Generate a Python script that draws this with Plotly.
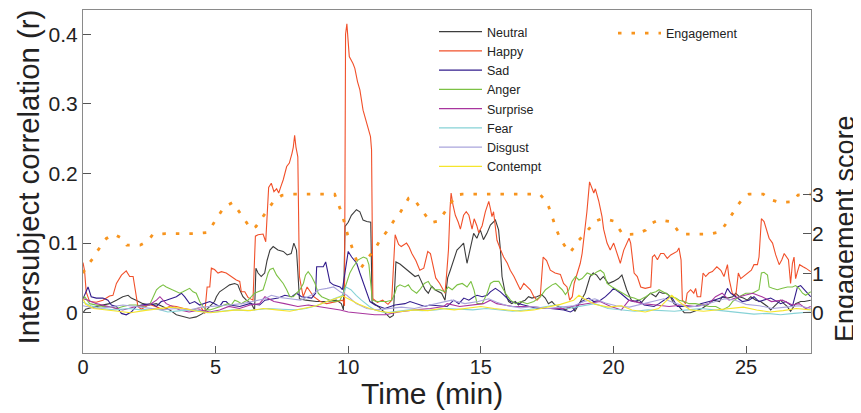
import plotly.graph_objects as go

# ---------------- data ----------------
happy_t = [0.00, 0.06, 0.12, 0.25, 0.50, 0.75, 1.00, 1.13, 1.26, 1.45, 1.63, 1.76, 1.89, 1.99, 2.07, 2.20,
           2.50, 2.80, 3.02, 3.30, 3.52, 3.80, 4.15, 4.45, 4.59, 4.68, 4.78, 4.84, 4.96, 5.09, 5.22, 5.40,
           5.59, 5.78, 5.91, 5.97, 6.10, 6.22, 6.41, 6.50, 6.60, 6.79, 6.89, 6.94, 7.00, 7.10, 7.20, 7.30,
           7.38, 7.45, 7.55, 7.68, 7.78, 7.88, 7.93, 7.98, 8.03, 8.10, 8.16, 8.30, 8.45, 8.70, 8.95, 9.19,
           9.58, 9.80, 9.86, 9.90, 9.95, 10.04, 10.18, 10.25, 10.35, 10.44, 10.56, 10.66, 10.75, 10.84, 10.88, 10.93,
           11.10, 11.30, 11.50, 11.64, 11.77, 11.90, 12.00, 12.20, 12.30, 12.40, 12.55, 12.70, 12.85, 12.95, 13.00, 13.10,
           13.20, 13.30, 13.45, 13.60, 13.65, 13.72, 13.78, 13.84, 13.88, 13.95, 14.04, 14.15, 14.23, 14.35, 14.45, 14.55,
           14.67, 14.75, 14.85, 14.92, 15.05, 15.17, 15.30, 15.36, 15.42, 15.48, 15.55, 15.61, 15.75, 15.86, 16.00, 16.11,
           16.25, 16.37, 16.49, 16.62, 16.75, 16.87, 17.00, 17.12, 17.24, 17.35, 17.48, 17.62, 17.80, 18.00, 18.12, 18.25,
           18.35, 18.45, 18.52, 18.63, 18.75, 18.82, 18.88, 19.00, 19.10, 19.19, 19.26, 19.32, 19.45, 19.57, 19.63, 19.76,
           19.88, 20.01, 20.13, 20.26, 20.39, 20.50, 20.59, 20.65, 20.72, 20.78, 20.90, 20.96, 21.03, 21.20, 21.41, 21.47,
           21.55, 21.66, 21.78, 21.90, 22.03, 22.16, 22.28, 22.40, 22.47, 22.55, 22.60, 22.72, 22.78, 22.91, 23.03, 23.10,
           23.16, 23.29, 23.38, 23.48, 23.60, 23.73, 23.90, 24.05, 24.17, 24.30, 24.36, 24.48, 24.61, 24.71, 24.80, 24.99,
           25.20, 25.30, 25.43, 25.49, 25.58, 25.68, 25.77, 25.87, 26.00, 26.12, 26.25, 26.35, 26.44, 26.52, 26.60, 26.68,
           26.75, 26.81, 26.87, 26.94, 27.02, 27.15, 27.25, 27.44]
happy_r = [0.072, 0.060, 0.030, 0.016, 0.015, 0.018, 0.024, 0.025, 0.042, 0.054, 0.060, 0.052, 0.052, 0.025, 0.009, 0.005,
           0.012, 0.008, 0.004, 0.010, 0.009, 0.006, 0.004, 0.008, -0.001, 0.037, 0.037, 0.064, 0.062, 0.057, 0.059, 0.057,
           0.052, 0.047, 0.045, 0.030, 0.030, 0.022, 0.018, 0.110, 0.112, 0.113, 0.102, 0.138, 0.180, 0.186, 0.174, 0.178,
           0.172, 0.180, 0.191, 0.210, 0.215, 0.229, 0.238, 0.255, 0.238, 0.224, 0.052, 0.023, 0.037, 0.023, 0.016, 0.013,
           0.016, 0.018, 0.010, 0.400, 0.415, 0.368, 0.358, 0.351, 0.332, 0.320, 0.291, 0.277, 0.268, 0.253, 0.234, 0.020,
           0.015, 0.018, 0.012, 0.018, 0.112, 0.098, 0.095, 0.100, 0.094, 0.085, 0.075, 0.061, 0.064, 0.080, 0.088, 0.085,
           0.067, 0.050, 0.042, 0.033, 0.028, 0.060, 0.090, 0.150, 0.172, 0.155, 0.140, 0.130, 0.120, 0.140, 0.145, 0.140,
           0.120, 0.135, 0.125, 0.115, 0.125, 0.145, 0.160, 0.150, 0.138, 0.145, 0.120, 0.104, 0.090, 0.080, 0.071, 0.061,
           0.052, 0.042, 0.033, 0.042, 0.037, 0.033, 0.023, 0.018, 0.023, 0.080, 0.075, 0.061, 0.057, 0.055, 0.042, 0.037,
           0.018, 0.023, 0.042, 0.057, 0.071, 0.085, 0.104, 0.145, 0.188, 0.180, 0.172, 0.178, 0.160, 0.138, 0.120, 0.100,
           0.090, 0.100, 0.085, 0.071, 0.090, 0.100, 0.107, 0.100, 0.076, 0.057, 0.052, 0.045, 0.037, 0.035, 0.037, 0.080,
           0.083, 0.076, 0.085, 0.085, 0.078, 0.083, 0.085, 0.088, 0.093, 0.076, 0.018, 0.013, 0.028, 0.033, 0.028, 0.035,
           0.023, 0.023, 0.057, 0.052, 0.057, 0.059, 0.066, 0.061, 0.052, 0.069, 0.049, 0.028, 0.023, 0.057, 0.049, 0.055,
           0.061, 0.069, 0.069, 0.080, 0.135, 0.131, 0.119, 0.107, 0.100, 0.083, 0.069, 0.076, 0.085, 0.080, 0.076, 0.042,
           0.071, 0.080, 0.049, 0.059, 0.069, 0.066, 0.064, 0.059]

neutral_t = [0.00, 0.10, 0.38, 0.75, 1.00, 1.26, 1.50, 1.70, 1.82, 2.00, 2.26, 2.50, 2.76, 3.00, 3.27, 3.52,
             3.77, 4.02, 4.27, 4.52, 4.78, 4.96, 5.03, 5.15, 5.34, 5.53, 5.72, 5.84, 5.91, 6.03, 6.16, 6.35,
             6.47, 6.52, 6.60, 6.72, 6.85, 6.94, 7.05, 7.17, 7.35, 7.55, 7.70, 7.85, 7.95, 8.05, 8.10, 8.16,
             8.40, 8.80, 9.20, 9.55, 9.74, 9.82, 9.88, 10.00, 10.12, 10.31, 10.44, 10.56, 10.70, 10.85, 10.90, 11.13,
             11.38, 11.57, 11.70, 11.80, 11.95, 12.14, 12.27, 12.39, 12.52, 12.65, 12.77, 12.90, 13.02, 13.15, 13.27, 13.52,
             13.65, 13.75, 13.85, 13.98, 14.10, 14.23, 14.35, 14.48, 14.60, 14.73, 14.85, 14.98, 15.10, 15.23, 15.36, 15.48,
             15.55, 15.67, 15.74, 15.80, 15.92, 16.05, 16.17, 16.30, 16.42, 16.55, 16.67, 16.80, 16.93, 17.11, 17.30, 17.43,
             17.55, 17.68, 17.80, 17.93, 18.18, 18.43, 18.55, 18.74, 18.93, 19.12, 19.24, 19.37, 19.50, 19.62, 19.81, 20.00,
             20.19, 20.32, 20.38, 20.50, 20.68, 20.85, 21.04, 21.20, 21.40, 21.60, 21.73, 21.85, 22.00, 22.15, 22.28, 22.47,
             22.67, 22.90, 23.15, 23.34, 23.53, 23.78, 24.00, 24.10, 24.30, 24.50, 24.61, 24.75, 24.90, 25.05, 25.18, 25.37,
             25.55, 25.68, 25.81, 25.93, 26.05, 26.18, 26.30, 26.43, 26.55, 26.68, 26.87, 27.06, 27.20, 27.44]
neutral_r = [0.000, 0.005, 0.008, 0.011, 0.013, 0.018, 0.023, 0.025, 0.021, 0.018, 0.013, 0.011, 0.013, 0.009, 0.004, -0.003,
             -0.006, -0.008, -0.006, -0.001, 0.009, 0.016, 0.023, 0.030, 0.035, 0.040, 0.042, 0.040, 0.033, 0.023, 0.018, 0.013,
             0.004, 0.064, 0.057, 0.052, 0.057, 0.075, 0.090, 0.095, 0.090, 0.088, 0.083, 0.085, 0.100, 0.090, 0.060, 0.020,
             0.018, 0.016, 0.016, 0.018, 0.013, 0.004, 0.124, 0.130, 0.140, 0.148, 0.145, 0.133, 0.131, 0.130, 0.015, 0.009,
             0.000, -0.007, -0.004, 0.073, 0.070, 0.064, 0.060, 0.057, 0.052, 0.054, 0.045, 0.033, 0.028, 0.038, 0.033, 0.028,
             0.018, 0.050, 0.061, 0.075, 0.090, 0.095, 0.100, 0.071, 0.090, 0.114, 0.107, 0.119, 0.105, 0.114, 0.126, 0.131,
             0.133, 0.119, 0.090, 0.052, 0.028, 0.016, 0.013, 0.016, 0.011, 0.016, 0.018, 0.023, 0.021, 0.023, 0.026, 0.021,
             0.013, 0.016, 0.011, 0.009, 0.004, 0.009, 0.002, 0.015, 0.028, 0.052, 0.057, 0.054, 0.047, 0.052, 0.042, 0.045,
             0.049, 0.054, 0.047, 0.033, 0.018, 0.016, 0.014, 0.021, 0.028, 0.023, 0.030, 0.028, 0.028, 0.023, 0.013, 0.009,
             0.000, 0.000, 0.004, 0.006, 0.011, 0.018, 0.016, 0.023, 0.021, 0.023, 0.028, 0.023, 0.021, 0.018, 0.023, 0.018,
             0.016, 0.013, 0.009, 0.004, 0.009, 0.013, 0.018, 0.013, 0.009, 0.002, 0.013, 0.016, 0.016, 0.018]

sad_t = [0.00, 0.19, 0.31, 0.50, 0.75, 0.94, 1.07, 1.26, 1.45, 1.63, 1.82, 2.01, 2.20, 2.58, 2.77, 2.95,
         3.14, 3.33, 3.52, 3.71, 3.83, 4.02, 4.21, 4.40, 4.59, 4.78, 4.96, 5.15, 5.28, 5.40, 5.53, 5.91,
         6.28, 6.66, 6.86, 7.36, 7.61, 7.87, 8.05, 8.24, 8.62, 8.77, 8.81, 9.06, 9.15, 9.20, 9.31, 9.44,
         9.69, 9.78, 9.88, 10.00, 10.13, 10.32, 10.44, 10.57, 10.69, 10.82, 11.01, 11.20, 11.38, 11.76, 12.14, 12.33,
         12.70, 12.89, 13.08, 13.52, 13.73, 13.98, 14.17, 14.36, 14.55, 14.74, 14.86, 15.05, 15.24, 15.36, 15.55, 15.74,
         15.93, 16.12, 16.62, 17.12, 17.63, 18.13, 18.38, 18.51, 18.70, 18.88, 19.07, 19.26, 19.51, 19.70, 19.89, 20.01,
         20.27, 20.58, 20.78, 20.97, 21.16, 21.53, 21.72, 21.91, 22.10, 22.22, 22.41, 23.10, 23.29, 23.79, 24.17, 24.30,
         24.42, 24.61, 24.86, 25.11, 25.30, 25.49, 25.93, 26.31, 26.50, 26.75, 26.94, 27.06, 27.19, 27.44]
sad_r = [0.020, 0.037, 0.023, 0.021, 0.021, 0.018, 0.011, 0.009, -0.001, -0.003, 0.001, 0.009, 0.011, 0.013, 0.009, 0.016,
         0.018, 0.021, 0.023, 0.028, 0.023, 0.013, 0.016, 0.011, 0.013, 0.016, 0.013, 0.009, 0.016, 0.016, 0.011, 0.009,
         0.013, 0.011, 0.018, 0.021, 0.025, 0.023, 0.028, 0.023, 0.021, 0.028, 0.066, 0.066, 0.073, 0.062, 0.044, 0.040,
         0.037, 0.033, 0.060, 0.088, 0.080, 0.071, 0.057, 0.042, 0.028, 0.016, 0.011, 0.009, 0.006, 0.011, 0.013, 0.016,
         0.011, 0.009, 0.011, 0.009, 0.009, 0.018, 0.013, 0.021, 0.018, 0.023, 0.025, 0.023, 0.025, 0.030, 0.035, 0.030,
         0.023, 0.016, 0.011, 0.006, 0.006, 0.004, 0.001, 0.004, 0.013, 0.018, 0.021, 0.016, 0.018, 0.023, 0.030, 0.035,
         0.028, 0.018, 0.016, 0.018, 0.011, 0.009, 0.013, 0.018, 0.023, 0.021, 0.009, 0.009, 0.013, 0.018, 0.023, 0.035,
         0.028, 0.023, 0.016, 0.018, 0.023, 0.016, 0.021, 0.013, 0.016, 0.009, 0.037, 0.039, 0.033, 0.023]

anger_t = [0.00, 0.06, 0.25, 0.50, 0.75, 1.00, 1.26, 1.51, 1.76, 2.01, 2.26, 2.51, 2.64, 2.77, 2.89, 3.02,
           3.14, 3.27, 3.39, 3.52, 3.65, 3.77, 3.90, 4.02, 4.15, 4.27, 4.40, 4.52, 4.65, 4.78, 4.96, 5.15,
           5.34, 5.47, 5.59, 5.72, 5.84, 5.97, 6.10, 6.22, 6.35, 6.47, 6.60, 6.79, 6.89, 6.98, 7.05, 7.17,
           7.30, 7.43, 7.55, 7.68, 7.80, 7.93, 8.05, 8.18, 8.31, 8.39, 8.49, 8.62, 8.75, 8.87, 9.00, 9.12,
           9.31, 9.50, 9.69, 9.81, 9.94, 10.06, 10.19, 10.38, 10.57, 10.70, 10.78, 10.91, 11.07, 11.26, 11.45, 11.64,
           11.76, 11.83, 11.95, 12.14, 12.27, 12.39, 12.58, 12.70, 12.87, 13.02, 13.14, 13.27, 13.46, 13.65, 13.77, 13.92,
           14.11, 14.30, 14.48, 14.63, 14.74, 14.86, 15.05, 15.24, 15.36, 15.49, 15.68, 15.80, 15.93, 16.12, 16.31, 16.50,
           16.75, 17.00, 17.25, 17.44, 17.56, 17.69, 17.82, 17.94, 18.07, 18.19, 18.32, 18.44, 18.57, 18.70, 18.82, 19.01,
           19.20, 19.39, 19.51, 19.64, 19.76, 19.95, 20.14, 20.33, 20.58, 20.78, 20.97, 21.22, 21.41, 21.60, 21.72, 21.97,
           22.16, 22.35, 22.48, 22.66, 22.85, 23.10, 23.36, 23.61, 23.86, 24.11, 24.36, 24.49, 24.74, 24.99, 25.24, 25.49,
           25.58, 25.68, 25.81, 25.87, 26.00, 26.18, 26.37, 26.56, 26.75, 26.87, 27.00, 27.13, 27.25, 27.38, 27.44]
anger_r = [0.018, 0.023, 0.013, 0.011, 0.009, 0.009, 0.006, 0.009, 0.011, 0.011, 0.009, 0.011, 0.023, 0.033, 0.037, 0.040,
           0.037, 0.035, 0.033, 0.030, 0.028, 0.030, 0.033, 0.035, 0.030, 0.028, 0.016, 0.009, 0.004, 0.004, 0.006, 0.009,
           0.011, 0.013, 0.011, 0.018, 0.016, 0.013, 0.016, 0.018, 0.023, 0.028, 0.030, 0.033, 0.045, 0.057, 0.062, 0.064,
           0.054, 0.047, 0.042, 0.033, 0.023, 0.023, 0.028, 0.033, 0.042, 0.054, 0.059, 0.052, 0.042, 0.028, 0.023, 0.021,
           0.018, 0.016, 0.018, 0.028, 0.042, 0.057, 0.066, 0.076, 0.080, 0.078, 0.069, 0.018, 0.016, 0.016, 0.016, 0.018,
           0.028, 0.037, 0.040, 0.037, 0.040, 0.033, 0.028, 0.033, 0.042, 0.045, 0.037, 0.033, 0.033, 0.030, 0.037, 0.033,
           0.040, 0.042, 0.037, 0.045, 0.033, 0.013, 0.013, 0.028, 0.042, 0.045, 0.045, 0.037, 0.028, 0.018, 0.013, 0.016,
           0.013, 0.016, 0.023, 0.033, 0.037, 0.040, 0.042, 0.037, 0.033, 0.026, 0.033, 0.045, 0.052, 0.047, 0.049, 0.057,
           0.054, 0.059, 0.061, 0.057, 0.042, 0.037, 0.033, 0.028, 0.023, 0.021, 0.018, 0.023, 0.028, 0.030, 0.033, 0.028,
           0.023, 0.021, 0.018, 0.016, 0.013, 0.013, 0.011, 0.009, 0.009, 0.004, 0.009, 0.016, 0.023, 0.028, 0.028, 0.033,
           0.057, 0.058, 0.054, 0.037, 0.035, 0.033, 0.035, 0.037, 0.037, 0.039, 0.035, 0.028, 0.025, 0.028, 0.030]

surprise_t = [0.0, 0.2, 0.5, 1.0, 1.5, 2.0, 2.5, 2.77, 2.9, 3.14, 3.4, 3.65, 4.0, 4.4, 4.78, 5.15,
              5.5, 5.9, 6.3, 6.66, 6.86, 7.2, 7.6, 8.1, 8.5, 8.9, 9.3, 9.7, 10.0, 10.5, 11.0, 11.4,
              11.9, 12.5, 13.1, 13.6, 13.73, 14.2, 14.7, 15.1, 15.36, 15.6, 16.2, 16.9, 17.5, 18.1, 18.7, 19.1,
              19.5, 19.9, 20.3, 20.59, 21.1, 21.6, 22.1, 22.6, 23.1, 23.6, 23.85, 24.1, 24.36, 24.74, 25.0, 25.25,
              25.6, 25.96, 26.37, 26.75, 27.0, 27.25, 27.44]
surprise_r = [0.020, 0.018, 0.013, 0.009, 0.004, 0.009, 0.011, 0.018, 0.023, 0.013, 0.009, 0.004, 0.001, 0.004, 0.001, 0.004,
              0.009, 0.006, 0.011, 0.013, 0.023, 0.016, 0.013, 0.009, 0.011, 0.009, 0.006, 0.004, 0.001, -0.001, -0.003, -0.003,
              0.001, 0.004, 0.006, 0.009, 0.013, 0.009, 0.011, 0.013, 0.018, 0.013, 0.009, 0.009, 0.006, 0.006, 0.011, 0.013,
              0.016, 0.009, 0.004, 0.018, 0.013, 0.011, 0.009, 0.011, 0.009, 0.013, 0.023, 0.028, 0.018, 0.023, 0.025, 0.028,
              0.023, 0.016, 0.018, 0.011, 0.013, 0.006, 0.009]

fear_t = [0.0, 0.3, 0.7, 1.2, 1.7, 2.2, 2.7, 3.2, 3.7, 4.2, 4.7, 5.2, 5.7, 6.2, 6.6, 7.0,
          7.5, 8.0, 8.4, 8.8, 9.2, 9.5, 9.8, 9.92, 10.1, 10.3, 10.5, 10.8, 11.0, 11.4, 11.8, 12.3,
          12.8, 13.3, 13.7, 14.2, 14.7, 15.2, 15.7, 16.2, 16.7, 17.3, 17.8, 18.3, 18.8, 19.3, 19.8, 20.3,
          20.8, 21.3, 21.8, 22.3, 22.8, 23.3, 23.8, 24.3, 24.8, 25.3, 25.8, 26.3, 26.8, 27.44]
fear_r = [0.015, 0.010, 0.006, 0.004, 0.006, 0.004, 0.006, 0.001, 0.003, 0.004, 0.000, 0.002, 0.004, 0.003, 0.004, 0.006,
          0.005, 0.004, 0.006, 0.010, 0.016, 0.020, 0.025, 0.037, 0.033, 0.025, 0.018, 0.009, 0.004, 0.000, 0.002, 0.004,
          0.003, 0.004, 0.006, 0.005, 0.004, 0.006, 0.004, 0.002, 0.004, 0.008, 0.011, 0.006, 0.009, 0.013, 0.006, 0.004,
          0.002, 0.004, 0.003, 0.002, 0.004, 0.006, 0.004, 0.002, 0.000, -0.002, -0.001, -0.003, -0.001, 0.001]

disgust_t = [0.0, 0.5, 1.0, 1.5, 2.0, 2.5, 3.0, 3.5, 4.0, 4.5, 5.0, 5.5, 6.0, 6.4, 6.86, 7.1,
             7.4, 7.8, 8.2, 8.6, 8.9, 9.2, 9.45, 9.7, 9.95, 10.3, 10.7, 11.1, 11.5, 12.0, 12.5, 13.0,
             13.5, 13.9, 14.4, 14.9, 15.3, 15.6, 16.0, 16.5, 17.0, 17.5, 18.0, 18.5, 18.9, 19.3, 19.7, 20.1,
             20.6, 21.0, 21.5, 21.9, 22.3, 22.8, 23.3, 23.8, 24.2, 24.6, 25.0, 25.5, 26.0, 26.5, 27.0, 27.44]
disgust_r = [0.010, 0.006, 0.008, 0.011, 0.009, 0.006, 0.004, 0.006, 0.004, 0.008, 0.009, 0.011, 0.013, 0.016, 0.020, 0.025,
             0.022, 0.020, 0.018, 0.025, 0.033, 0.035, 0.037, 0.030, 0.025, 0.013, 0.006, 0.004, 0.006, 0.008, 0.006, 0.010,
             0.014, 0.018, 0.013, 0.016, 0.020, 0.015, 0.010, 0.007, 0.009, 0.006, 0.008, 0.010, 0.016, 0.020, 0.014, 0.010,
             0.008, 0.012, 0.016, 0.020, 0.014, 0.008, 0.010, 0.016, 0.020, 0.018, 0.012, 0.010, 0.006, 0.008, 0.010, 0.006]

contempt_t = [0.0, 0.1, 0.4, 0.8, 1.3, 1.8, 2.3, 2.8, 3.3, 3.8, 4.3, 4.8, 5.3, 5.8, 6.3, 6.8,
              7.3, 7.8, 8.3, 8.8, 9.2, 9.5, 9.8, 10.0, 10.4, 10.8, 11.2, 11.6, 12.0, 12.5, 13.0, 13.5,
              14.0, 14.5, 15.0, 15.5, 16.0, 16.5, 17.0, 17.5, 18.0, 18.5, 18.7, 18.9, 19.3, 19.8, 20.3, 20.7,
              21.2, 21.7, 22.0, 22.2, 22.5, 22.9, 23.4, 23.9, 24.4, 24.9, 25.4, 25.9, 26.4, 26.9, 27.44]
contempt_r = [0.020, 0.012, 0.006, 0.004, 0.002, 0.000, 0.003, 0.006, 0.008, 0.006, 0.002, 0.000, 0.002, 0.004, 0.003, 0.006,
              0.004, 0.002, 0.006, 0.010, 0.016, 0.020, 0.024, 0.020, 0.012, 0.006, 0.002, 0.000, 0.002, 0.004, 0.003, 0.006,
              0.004, 0.006, 0.009, 0.006, 0.004, 0.002, 0.004, 0.008, 0.012, 0.018, 0.025, 0.020, 0.012, 0.008, 0.010, 0.004,
              0.001, 0.006, 0.018, 0.025, 0.015, 0.004, 0.002, 0.004, 0.006, 0.008, 0.004, 0.001, 0.003, 0.006, 0.004]

engage_t = [0.00, 0.06, 0.23, 0.40, 0.55, 0.70, 0.88, 1.17, 1.47, 1.65, 2.15, 2.46, 2.63, 3.12, 4.19, 4.68,
            4.85, 5.00, 5.17, 5.33, 5.64, 5.83, 6.00, 6.16, 6.32, 6.52, 6.70, 6.86, 7.21, 7.50, 7.89, 9.49,
            9.58, 9.69, 9.78, 9.84, 9.92, 9.98, 10.07, 10.15, 10.25, 10.33, 10.47, 10.63, 10.78, 10.97, 11.24, 11.45,
            11.63, 11.80, 11.98, 12.14, 12.28, 12.44, 12.62, 12.77, 12.95, 13.12, 13.41, 13.56, 13.75, 14.08, 14.30, 17.22,
            17.43, 17.56, 17.65, 17.72, 17.81, 17.91, 18.02, 18.19, 18.36, 18.53, 18.70, 18.88, 19.10, 19.26, 19.61, 20.01,
            20.19, 20.36, 20.86, 21.22, 21.40, 21.72, 22.19, 22.35, 22.52, 23.61, 24.03, 24.21, 24.37, 24.53, 24.70, 24.86,
            25.11, 25.65, 25.90, 26.28, 26.78, 26.96, 27.44]
engage_s = [1.00, 1.08, 1.25, 1.40, 1.57, 1.72, 1.88, 1.99, 1.88, 1.71, 1.71, 1.82, 1.98, 2.00, 2.00, 2.03,
            2.18, 2.35, 2.52, 2.68, 2.79, 2.62, 2.45, 2.29, 2.12, 2.18, 2.35, 2.52, 2.84, 2.97, 3.00, 3.00,
            2.81, 2.64, 2.47, 2.30, 2.14, 1.97, 1.80, 1.63, 1.46, 1.29, 1.12, 1.29, 1.42, 1.57, 1.88, 2.05,
            2.25, 2.41, 2.56, 2.73, 2.90, 2.91, 2.75, 2.60, 2.43, 2.28, 2.32, 2.47, 2.64, 2.98, 3.00, 3.00,
            2.85, 2.68, 2.52, 2.35, 2.18, 2.01, 1.84, 1.67, 1.52, 1.67, 1.84, 1.97, 2.14, 2.30, 2.39, 2.32,
            2.15, 1.98, 1.99, 2.09, 2.25, 2.35, 2.30, 2.15, 1.99, 1.99, 2.05, 2.22, 2.37, 2.55, 2.73, 2.87,
            3.00, 3.00, 2.87, 2.79, 2.81, 2.98, 3.00]

x_ticks = [0, 5, 10, 15, 20, 25]
y_ticks = [0, 0.1, 0.2, 0.3, 0.4]
y_tick_text = ["0", "0.1", "0.2", "0.3", "0.4"]
y2_ticks = [0, 1, 2, 3]

series = [
    ("Neutral", neutral_t, neutral_r, "#3d3d3d"),
    ("Happy", happy_t, happy_r, "#f1502a"),
    ("Sad", sad_t, sad_r, "#321c8c"),
    ("Anger", anger_t, anger_r, "#7cc144"),
    ("Surprise", surprise_t, surprise_r, "#a8359e"),
    ("Fear", fear_t, fear_r, "#86d2d6"),
    ("Disgust", disgust_t, disgust_r, "#aaa5dc"),
    ("Contempt", contempt_t, contempt_r, "#f5e52c"),
]

FONT = "Liberation Sans, Arial, Helvetica, sans-serif"

# the page adds an 8px body margin; the figure is sized so the plot area lands
# at x 83..811, y 10..353 of the 861x413 window
PAD = 8
PL, PR, PT, PB = 83, 811, 10, 353
PW, PH = PR - PL, PB - PT


def px(x):
    return (x - PL) / PW


def py(y):
    return (PB - y) / PH


fig = go.Figure()
for name, t, r, col in series:
    fig.add_trace(go.Scatter(x=t, y=r, name=name, mode="lines",
                             line=dict(color=col, width=1.1), legend="legend"))

fig.add_trace(go.Scatter(x=engage_t, y=engage_s, name="Engagement", mode="lines", yaxis="y2",
                         line=dict(color="#f7941e", width=2.8, dash="3.5px,10px"),
                         legend="legend2"))

axis_common = dict(showgrid=False, zeroline=False, showline=True, linecolor="#8a8a8a",
                   linewidth=1.2, ticks="inside", tickcolor="#555555", tickwidth=1.2)

fig.update_layout(
    width=861 - PAD, height=413 - PAD,
    margin=dict(l=PL - PAD, r=861 - PR, t=PT - PAD, b=413 - PB, autoexpand=False),
    paper_bgcolor="white", plot_bgcolor="white",
    font=dict(family=FONT, color="#222222"),
    showlegend=True,
    xaxis=dict(range=[0, 27.45], tickvals=x_ticks, ticklen=7, mirror=True,
               ticklabelstandoff=-4,
               tickfont=dict(size=20, family=FONT, color="#222222"), **axis_common),
    yaxis=dict(range=[-0.0579, 0.4349], tickvals=y_ticks, ticktext=y_tick_text, ticklen=8,
               mirror=True, tickfont=dict(size=21, family=FONT, color="#222222"), **axis_common),
    yaxis2=dict(overlaying="y", side="right", range=[-1.02, 7.663], tickvals=y2_ticks,
                showgrid=False, zeroline=False, showline=False, ticks="inside", ticklen=8,
                tickcolor="#555555", tickwidth=1.2,
                tickfont=dict(size=21, family=FONT, color="#222222")),
    legend=dict(x=px(434), y=py(17), xanchor="left", yanchor="top", bgcolor="rgba(0,0,0,0)",
                font=dict(size=12.5, family=FONT, color="#222222"), borderwidth=0,
                tracegroupgap=0, itemwidth=43),
    legend2=dict(x=px(613), y=py(18.5), xanchor="left", yanchor="top", bgcolor="rgba(0,0,0,0)",
                 font=dict(size=12.5, family=FONT, color="#222222"), borderwidth=0,
                 itemwidth=43),
    annotations=[
        dict(text="Time (min)", xref="paper", yref="paper", x=px(432), y=py(393),
             xanchor="center", yanchor="middle", showarrow=False,
             font=dict(size=30, family=FONT, color="#222222")),
        dict(text="Intersubject correlation (r)", xref="paper", yref="paper",
             x=px(27.5), y=py(177), textangle=-90,
             xanchor="center", yanchor="middle", showarrow=False,
             font=dict(size=29.4, family=FONT, color="#222222")),
        dict(text="Engagement score", xref="paper", yref="paper",
             x=px(845), y=py(229), textangle=-90,
             xanchor="center", yanchor="middle", showarrow=False,
             font=dict(size=27, family=FONT, color="#222222")),
    ],
)

fig.write_html("out.html")
